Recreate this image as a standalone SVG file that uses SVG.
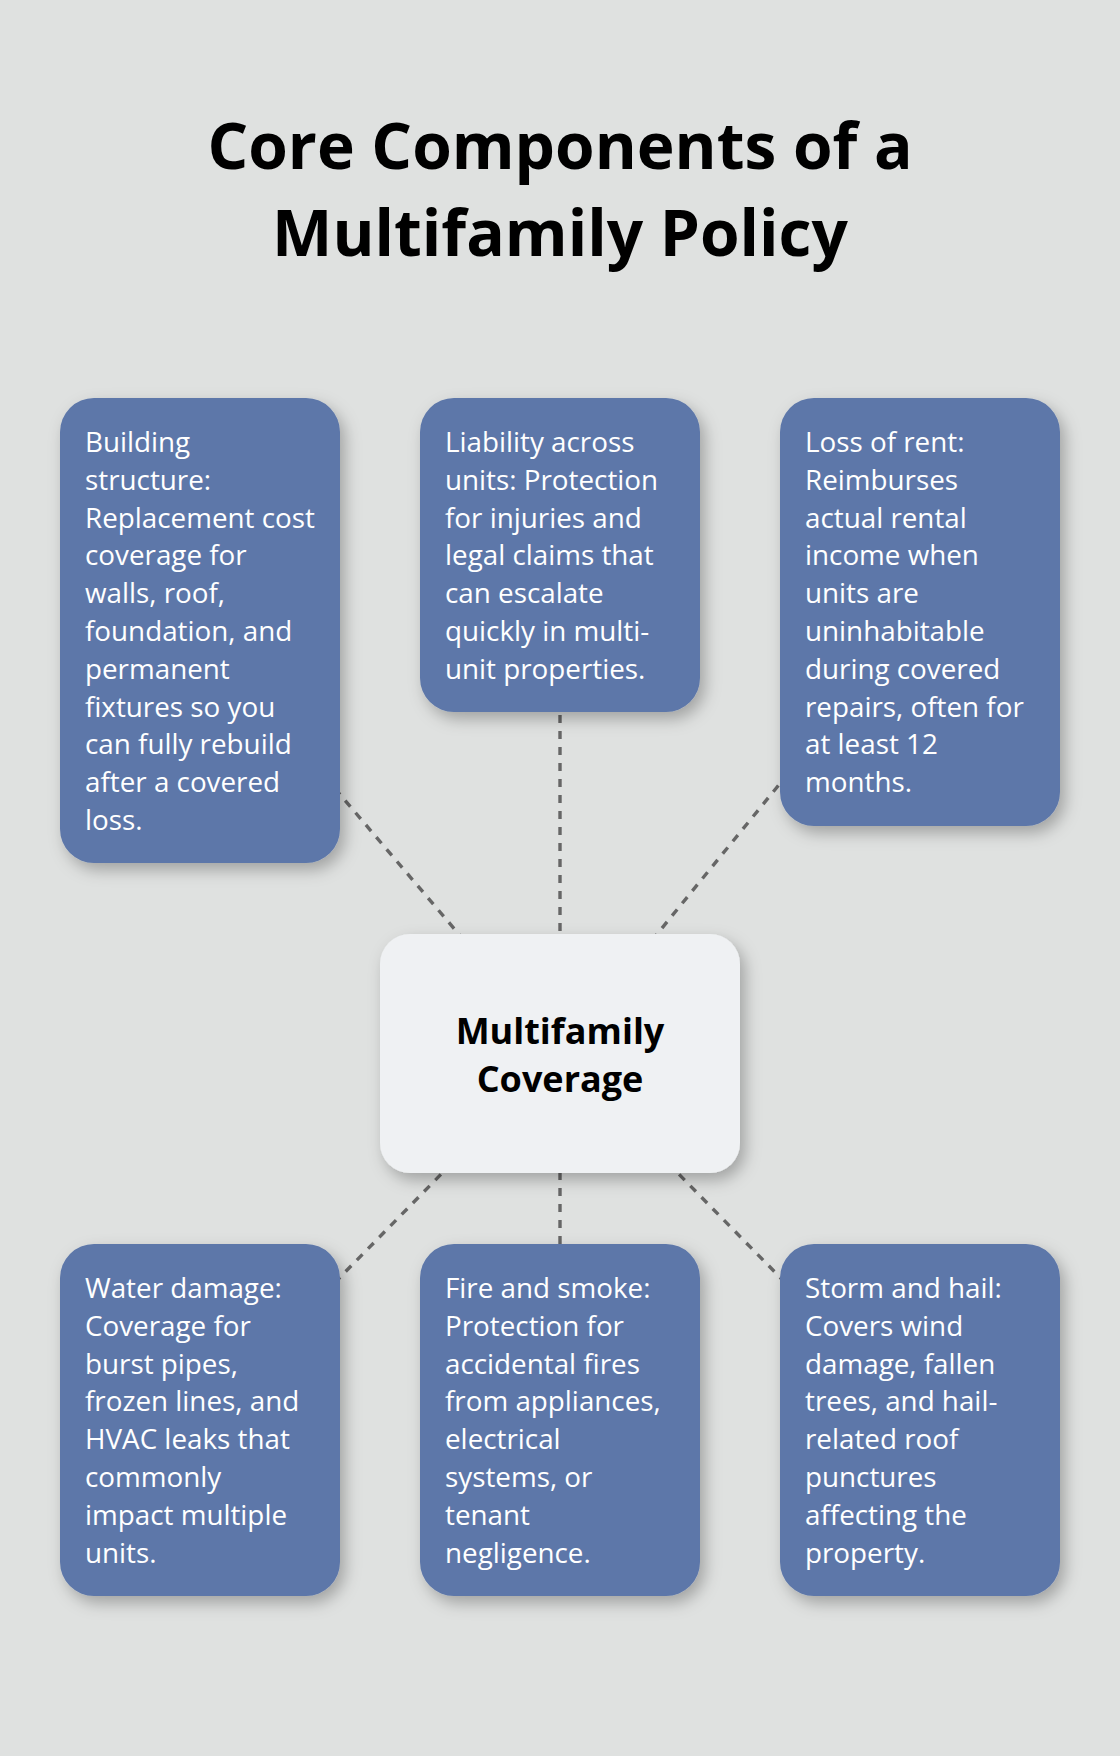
<svg xmlns="http://www.w3.org/2000/svg" width="1120" height="1756" viewBox="0 0 1120 1756">
<defs>
<filter id="sh" x="-20%" y="-20%" width="150%" height="150%">
<feDropShadow dx="5" dy="7" stdDeviation="8" flood-color="#000" flood-opacity="0.28"/>
</filter>
</defs>
<style>
.title{font-family:"Open Sans","Noto Sans",sans-serif;font-weight:700;font-size:64px;fill:#000;text-anchor:middle}
.box{fill:#5d77a9;filter:url(#sh)}
.hub{fill:#eff1f3;filter:url(#sh)}
.t{font-family:"Open Sans","Noto Sans",sans-serif;font-size:27.8px;fill:#fff}
.ht{font-family:"Open Sans","Noto Sans",sans-serif;font-weight:700;font-size:36px;fill:#000;text-anchor:middle}
.c{stroke:#666;stroke-width:3.4;stroke-dasharray:8 8;fill:none}
</style>
<rect width="1120" height="1756" fill="#dfe1e0"/>
<text class="title" x="560" y="169">Core Components of a</text>
<text class="title" x="560" y="256">Multifamily Policy</text>
<g id="connectors">
<line class="c" x1="200" y1="630" x2="560" y2="1053"/>
<line class="c" x1="560" y1="555" x2="560" y2="1053"/>
<line class="c" x1="920" y1="612" x2="560" y2="1053"/>
<line class="c" x1="200" y1="1420" x2="560" y2="1053"/>
<line class="c" x1="560" y1="1420" x2="560" y2="1053"/>
<line class="c" x1="920" y1="1420" x2="560" y2="1053"/>
</g>
<g id="hub">
<rect class="hub" x="380" y="934" width="360" height="239" rx="30"/>
<text class="ht" x="560" y="1044">Multifamily</text>
<text class="ht" x="560" y="1092">Coverage</text>
</g>
<g id="building">
<rect class="box" x="60" y="398" width="280" height="465" rx="34"/>
<text class="t" x="85" y="452"><tspan x="85">Building</tspan><tspan x="85" dy="37.8">structure:</tspan><tspan x="85" dy="37.8">Replacement cost</tspan><tspan x="85" dy="37.8">coverage for</tspan><tspan x="85" dy="37.8">walls, roof,</tspan><tspan x="85" dy="37.8">foundation, and</tspan><tspan x="85" dy="37.8">permanent</tspan><tspan x="85" dy="37.8">fixtures so you</tspan><tspan x="85" dy="37.8">can fully rebuild</tspan><tspan x="85" dy="37.8">after a covered</tspan><tspan x="85" dy="37.8">loss.</tspan></text>
</g>
<g id="liability">
<rect class="box" x="420" y="398" width="280" height="314" rx="34"/>
<text class="t" x="445" y="452"><tspan x="445">Liability across</tspan><tspan x="445" dy="37.8">units: Protection</tspan><tspan x="445" dy="37.8">for injuries and</tspan><tspan x="445" dy="37.8">legal claims that</tspan><tspan x="445" dy="37.8">can escalate</tspan><tspan x="445" dy="37.8">quickly in multi-</tspan><tspan x="445" dy="37.8">unit properties.</tspan></text>
</g>
<g id="rent">
<rect class="box" x="780" y="398" width="280" height="428" rx="34"/>
<text class="t" x="805" y="452"><tspan x="805">Loss of rent:</tspan><tspan x="805" dy="37.8">Reimburses</tspan><tspan x="805" dy="37.8">actual rental</tspan><tspan x="805" dy="37.8">income when</tspan><tspan x="805" dy="37.8">units are</tspan><tspan x="805" dy="37.8">uninhabitable</tspan><tspan x="805" dy="37.8">during covered</tspan><tspan x="805" dy="37.8">repairs, often for</tspan><tspan x="805" dy="37.8">at least 12</tspan><tspan x="805" dy="37.8">months.</tspan></text>
</g>
<g id="water">
<rect class="box" x="60" y="1244" width="280" height="352" rx="34"/>
<text class="t" x="85" y="1298"><tspan x="85">Water damage:</tspan><tspan x="85" dy="37.8">Coverage for</tspan><tspan x="85" dy="37.8">burst pipes,</tspan><tspan x="85" dy="37.8">frozen lines, and</tspan><tspan x="85" dy="37.8">HVAC leaks that</tspan><tspan x="85" dy="37.8">commonly</tspan><tspan x="85" dy="37.8">impact multiple</tspan><tspan x="85" dy="37.8">units.</tspan></text>
</g>
<g id="fire">
<rect class="box" x="420" y="1244" width="280" height="352" rx="34"/>
<text class="t" x="445" y="1298"><tspan x="445">Fire and smoke:</tspan><tspan x="445" dy="37.8">Protection for</tspan><tspan x="445" dy="37.8">accidental fires</tspan><tspan x="445" dy="37.8">from appliances,</tspan><tspan x="445" dy="37.8">electrical</tspan><tspan x="445" dy="37.8">systems, or</tspan><tspan x="445" dy="37.8">tenant</tspan><tspan x="445" dy="37.8">negligence.</tspan></text>
</g>
<g id="storm">
<rect class="box" x="780" y="1244" width="280" height="352" rx="34"/>
<text class="t" x="805" y="1298"><tspan x="805">Storm and hail:</tspan><tspan x="805" dy="37.8">Covers wind</tspan><tspan x="805" dy="37.8">damage, fallen</tspan><tspan x="805" dy="37.8">trees, and hail-</tspan><tspan x="805" dy="37.8">related roof</tspan><tspan x="805" dy="37.8">punctures</tspan><tspan x="805" dy="37.8">affecting the</tspan><tspan x="805" dy="37.8">property.</tspan></text>
</g>
</svg>
